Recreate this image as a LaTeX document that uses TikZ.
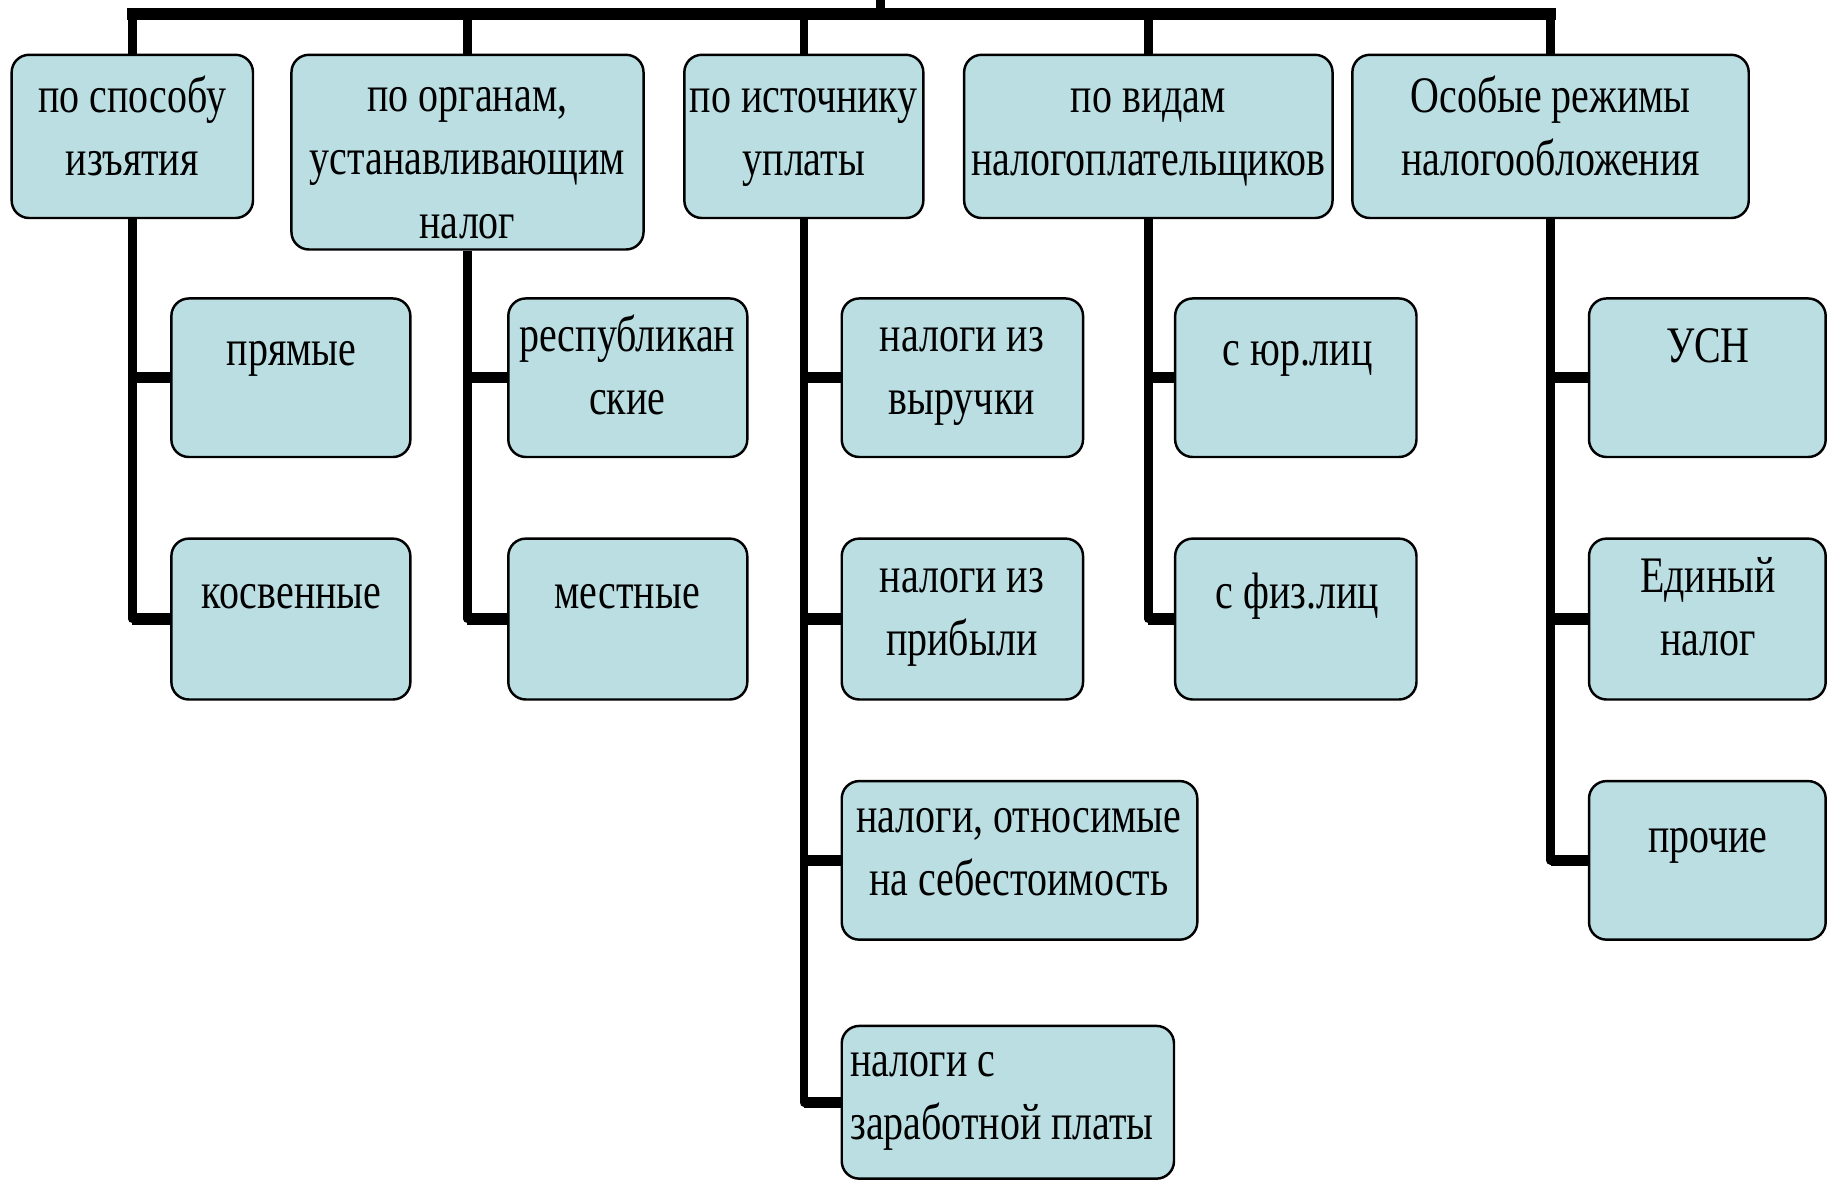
\documentclass[tikz,border=0pt]{standalone}
\usepackage{fontspec}
\setmainfont{Liberation Serif}[FakeStretch=0.78]
\usetikzlibrary{fit}
\definecolor{boxfill}{RGB}{186,222,226}
\begin{document}
\begin{tikzpicture}[x=0.02cm, y=-0.02cm,
  box/.style={draw=black, line width=1.2pt, fill=boxfill, rounded corners=0.3cm, inner sep=0pt},
  txt/.style={font=\fontsize{25}{31}\selectfont, align=center, inner sep=0pt},
  bar/.style={line width=5.6pt, line cap=rect},
  drop/.style={line width=4.2pt},
  trunk/.style={line width=4.2pt, line join=round},
  stub/.style={line width=5.6pt}]
\useasboundingbox[fill=white] (0,0) rectangle (1568,1014);

% top level boxes
\node[box, fit={(10,47) (217,187)}]   (t1) {};
\node[box, fit={(250,47) (552,214)}]  (t2) {};
\node[box, fit={(587,47) (792,187)}]  (t3) {};
\node[box, fit={(827,47) (1143,187)}] (t4) {};
\node[box, fit={(1160,47) (1500,187)}] (t5) {};

% children
\node[box, fit={(147,256) (352,392)}]  (c11) {};
\node[box, fit={(147,462) (352,600)}]  (c12) {};
\node[box, fit={(436,256) (641,392)}]  (c21) {};
\node[box, fit={(436,462) (641,600)}]  (c22) {};
\node[box, fit={(722,256) (929,392)}]  (c31) {};
\node[box, fit={(722,462) (929,600)}]  (c32) {};
\node[box, fit={(722,670) (1027,806)}] (c33) {};
\node[box, fit={(722,880) (1007,1011)}] (c34) {};
\node[box, fit={(1008,256) (1215,392)}] (c41) {};
\node[box, fit={(1008,462) (1215,600)}] (c42) {};
\node[box, fit={(1363,256) (1566,392)}] (c51) {};
\node[box, fit={(1363,462) (1566,600)}] (c52) {};
\node[box, fit={(1363,670) (1566,806)}] (c53) {};

% top connectors
\coordinate (root) at (755,0);
\coordinate (bus) at (755,12);
\draw[drop] (root) -- (bus);
\draw[bar] (bus -| t1.north) -- (bus -| t5.north);
\foreach \i in {1,...,5} \draw[drop] (bus -| t\i.north) -- (t\i.north);

% trunks
\draw[trunk] (t1.south) -- (t1.south |- c12.west) -- (c12.west);
\draw[trunk] (t2.south) -- (t2.south |- c22.west) -- (c22.west);
\draw[trunk] (t3.south) -- (t3.south |- c34.west) -- (c34.west);
\draw[trunk] (t4.south) -- (t4.south |- c42.west) -- (c42.west);
\draw[trunk] (t5.south) -- (t5.south |- c53.west) -- (c53.west);

% stubs
\foreach \p/\c in {t1/c11,t1/c12,t2/c21,t2/c22,t3/c31,t3/c32,t3/c33,t3/c34,t4/c41,t4/c42,t5/c51,t5/c52,t5/c53}
  \draw[stub] (\p.south |- \c.west) -- (\c.west);

% texts
\node[txt] (l1) at (113.5,112.5) {\strut по способу\\\strut изъятия};
\node[txt] (l2) at (401,139) {\strut по органам,\\\strut устанавливающим\\\strut налог};
\node[txt] (l3) at (689.5,112.5) {\strut по источнику\\\strut уплаты};
\node[txt] (l4) at (985,112.5) {\strut по видам\\\strut налогоплательщиков};
\node[txt] (l5) at (1330,112.5) {\strut Особые режимы\\\strut налогообложения};

\node[txt] (m11) at (250,303) {\strut прямые};
\node[txt] (m12) at (250,511) {\strut косвенные};
\node[txt] (m21) at (538,317.5) {\strut республикан\\\strut ские};
\node[txt] (m22) at (538,511) {\strut местные};
\node[txt] (m31) at (825,317.5) {\strut налоги из\\\strut выручки};
\node[txt] (m32) at (825,524.5) {\strut налоги из\\\strut прибыли};
\node[txt] (m33) at (874,730) {\strut налоги, относимые\\\strut на себестоимость};
\node[txt, align=left, anchor=west] (m34) at (729,939.5) {\strut налоги с\\\strut заработной платы};
\node[txt] (m41) at (1113,303) {\strut с юр.лиц};
\node[txt] (m42) at (1113,511) {\strut с физ.лиц};
\node[txt] (m51) at (1465,300) {\strut УСН};
\node[txt] (m52) at (1465,524.5) {\strut Единый\\\strut налог};
\node[txt] (m53) at (1465,720) {\strut прочие};
\end{tikzpicture}
\end{document}
